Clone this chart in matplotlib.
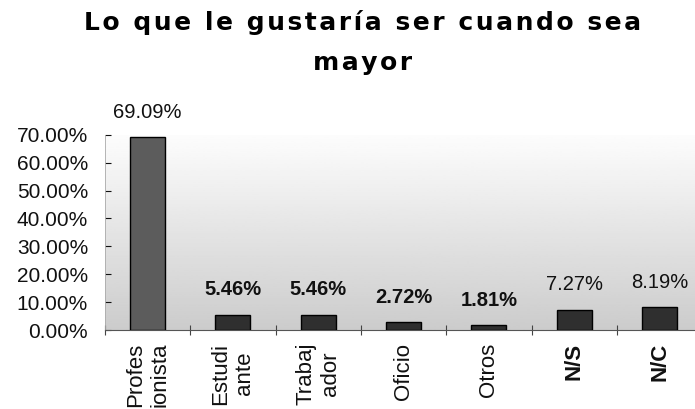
import numpy as np
import matplotlib
matplotlib.use("Agg")
import matplotlib.pyplot as plt
from matplotlib.ticker import FixedLocator, FuncFormatter

# datos
categorias = ["Profes\nionista", "Estudi\nante", "Trabaj\nador", "Oficio", "Otros", "N/S", "N/C"]
porcentajes = [69.09, 5.46, 5.46, 2.72, 1.81, 7.27, 8.19]
etiquetas = ["69.09%", "5.46%", "5.46%", "2.72%", "1.81%", "7.27%", "8.19%"]

plt.rcParams['font.family'] = ['Liberation Sans', 'DejaVu Sans']

fig = plt.figure(figsize=(6.95, 4.09), dpi=100)
ax = fig.add_axes([0.1507, 0.193, 0.860, 0.4775])

x = np.arange(len(categorias))
colores = ['#5c5c5c'] + ['#2f2f2f'] * (len(categorias) - 1)
ax.bar(x, porcentajes, width=0.41, color=colores, edgecolor='black', linewidth=1.0, zorder=3)

ax.set_xlim(-0.5, len(categorias) - 0.5)
ax.set_ylim(0, 70)

# fondo gris degradado
grad = np.linspace(0.99, 0.80, 100).reshape(-1, 1)
ax.imshow(grad, cmap='gray', vmin=0, vmax=1, aspect='auto',
          extent=(-0.5, len(categorias) - 0.5, 0, 70), origin='upper', zorder=0)

pesos = ['normal', 'bold', 'bold', 'bold', 'bold', 'normal', 'normal']
for xi, v, t, w in zip(x, porcentajes, etiquetas, pesos):
    ax.annotate(t, (xi, v), xytext=(0, 18), textcoords='offset points',
                ha='center', va='center', fontsize=14.5, color='#111111', fontweight=w)

ax.yaxis.set_major_locator(FixedLocator(np.arange(0, 71, 10)))
ax.yaxis.set_major_formatter(FuncFormatter(lambda v, p: f"{v:.2f}%"))
ax.tick_params(axis='y', direction='in', length=4, pad=12, labelsize=15, colors='#111111', width=0.8)

ax.set_xticks(x)
ax.set_xticklabels(categorias, rotation=90, ha='center', va='top', multialignment='center')
ax.tick_params(axis='x', which='major', length=0, pad=9, labelsize=16, colors='#111111')
for lbl in ax.get_xticklabels()[-2:]:
    lbl.set_fontweight('bold')
ax.xaxis.set_minor_locator(FixedLocator(np.arange(-0.5, len(categorias), 1.0)))
ax.tick_params(axis='x', which='minor', direction='inout', length=7, width=0.8, color='#444444')

for s in ['top', 'right']:
    ax.spines[s].set_visible(False)
ax.spines['left'].set_color('#aaaaaa')
ax.spines['left'].set_linewidth(0.6)
ax.spines['bottom'].set_color('#555555')
ax.spines['bottom'].set_linewidth(0.8)

hs = '\u200a'
linea1 = hs.join("Lo que le gustaría ser cuando sea")
linea2 = hs.join("mayor")
fig.text(0.522, 0.944, linea1, ha='center', va='center',
         fontsize=18, fontweight='bold', family='DejaVu Sans')
fig.text(0.522, 0.846, linea2, ha='center', va='center',
         fontsize=18, fontweight='bold', family='DejaVu Sans')

fig.savefig("out.png", dpi=100)
